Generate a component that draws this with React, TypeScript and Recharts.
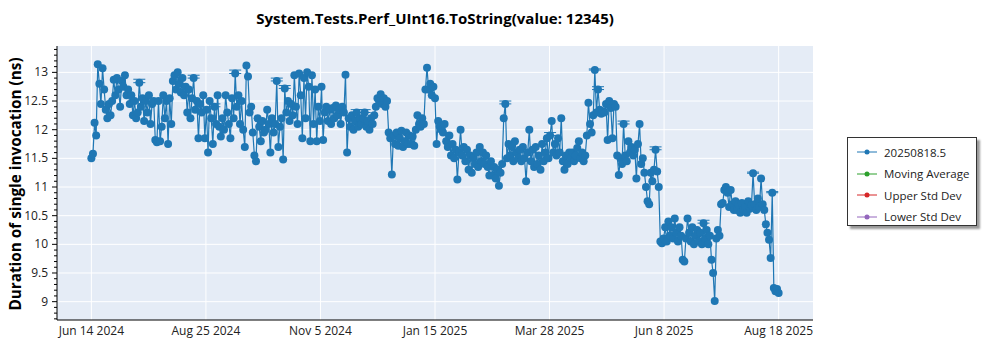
import { LineChart, Line, XAxis, YAxis, CartesianGrid, ErrorBar } from 'recharts';

// one run per day starting Jun 14 2024
const dayStep = 1;

const durations = [
  11.5, 11.58, 12.12, 11.9, 13.14, 12.8, 12.45, 13.07, 12.7, 12.35,
  12.2, 12.45, 12.25, 12.5, 12.87, 12.6, 12.9, 12.7, 12.4, 12.85,
  12.75, 12.95, 12.6, 12.7, 12.45, 12.6, 12.25, 12.5, 12.2, 12.3,
  12.82, 12.4, 12.55, 12.15, 12.5, 12.3, 12.6, 12.1, 12.45, 12.5,
  11.82, 11.78, 12.5, 11.8, 12.05, 12.6, 12.2, 12.5, 11.75, 12.55,
  12.1, 12.85, 12.95, 12.7, 13.0, 12.8, 12.65, 12.9, 12.6, 12.75,
  12.3, 12.7, 12.2, 12.55, 12.9, 12.35, 12.5, 11.85, 12.45, 12.3,
  12.6, 11.85, 12.35, 11.6, 12.5, 12.2, 11.75, 12.4, 12.1, 12.6,
  12.05, 11.88, 12.2, 12.0, 12.6, 12.3, 12.1, 11.85, 12.55, 12.2,
  12.98, 12.4, 12.6, 12.1, 12.5, 12.0, 11.7, 13.12, 12.93, 12.3,
  12.4, 11.95, 11.55, 11.45, 12.2, 12.05, 11.8, 12.15, 11.95, 12.0,
  12.35, 12.1, 11.6, 12.2, 11.95, 12.1, 12.85, 11.7, 12.05, 12.2,
  11.48, 12.72, 12.3, 12.5, 12.15, 12.45, 12.25, 12.95, 12.4, 12.1,
  12.98, 12.6, 11.85, 12.9, 12.2, 13.0, 12.75, 11.8, 12.95, 12.1,
  12.7, 11.8, 12.4, 12.15, 12.75, 11.82, 12.3, 12.4, 12.15, 12.35,
  12.1, 12.38, 12.2, 12.42, 12.25, 12.35, 12.1, 12.4, 12.3, 12.96,
  11.6, 12.2, 12.05, 12.25, 12.0, 12.15, 12.3, 12.05, 12.2, 12.1,
  12.2, 12.3, 12.05, 12.15, 12.0, 12.2, 12.1, 12.25, 12.4, 12.55,
  12.5, 12.62, 12.45, 12.55, 12.4, 12.5, 11.95, 11.85, 11.22, 11.9,
  11.75, 11.95, 11.72, 11.85, 11.98, 11.7, 11.8, 11.95, 11.75, 11.9,
  11.75, 11.88, 11.72, 12.0, 12.25, 12.1, 12.05, 12.2, 12.1, 12.7,
  13.08, 12.7, 12.8, 12.6, 12.75, 12.55, 11.75, 12.15, 12.05, 12.0,
  11.95, 12.1, 11.8, 11.7, 11.9, 11.55, 11.75, 11.5, 11.65, 11.13,
  11.6, 12.0, 11.55, 11.7, 11.45, 11.65, 11.3, 11.55, 11.25, 11.5,
  11.4, 11.6, 11.35, 11.7, 11.45, 11.6, 11.4, 11.55, 11.35, 11.2,
  11.45, 11.2, 11.35, 11.15, 11.3, 11.02, 11.25, 11.4, 12.2, 12.45,
  11.5, 11.75, 11.55, 11.7, 11.45, 11.8, 11.6, 11.5, 11.65, 11.45,
  11.7, 11.5, 11.1, 11.6, 12.0, 11.45, 11.65, 11.35, 11.7, 11.4,
  11.55, 11.3, 11.75, 11.45, 11.6, 11.85, 11.5, 11.9, 12.15, 11.6,
  11.75, 11.55, 11.85, 11.6, 12.2, 11.45, 11.3, 11.55, 11.4, 11.6,
  11.5, 11.6, 11.45, 11.55, 11.68, 11.8, 11.5, 11.6, 11.45, 11.55,
  11.9, 12.47, 12.1, 11.95, 12.25, 13.04, 12.3, 12.7, 12.35, 12.28,
  12.32, 12.3, 12.45, 11.82, 12.5, 12.38, 11.85, 12.45, 12.4, 11.55,
  11.21, 11.5, 11.4, 12.1, 11.55, 11.45, 11.8, 11.6, 11.7, 11.55,
  11.65, 11.15, 11.75, 12.1, 11.4, 11.5, 11.25, 11.0, 10.75, 10.7,
  11.25, 11.1, 11.3, 11.65, 11.27, 11.0, 10.05, 10.02, 10.1, 10.3,
  10.05, 10.4, 10.15, 10.3, 10.1, 10.45, 10.2, 10.05, 10.3, 10.15,
  9.73, 9.7, 10.1, 10.45, 10.2, 10.05, 10.3, 10.0, 10.15, 10.25,
  10.05, 10.2, 10.0, 10.37, 10.1, 10.25, 10.0, 10.15, 9.73, 9.5,
  9.01, 10.1, 10.25, 10.15, 10.7, 10.72, 10.95, 11.0, 10.9, 10.65,
  10.95, 10.7, 10.6, 10.75, 10.6, 10.7, 10.55, 10.72, 10.6, 10.65,
  10.55, 10.75, 10.62, 10.68, 11.24, 10.7, 10.6, 10.8, 10.65, 11.15,
  10.7, 10.6, 10.35, 10.2, 10.08, 9.76, 10.9, 9.24, 9.18, 9.22,
  9.15,
];

// upper std error on a few runs (day index -> ns)
const upperErrors: Record<number, number> = {
  30: 0.06, 55: 0.08, 64: 0.05, 77: 0.05, 90: 0.06, 116: 0.05, 121: 0.05,
  166: 0.05, 171: 0.05, 259: 0.05, 287: 0.05, 315: 0.02, 317: 0.05,
  333: 0.05, 353: 0.05, 383: 0.05, 414: 0.02, 426: 0.02,
};

const xTickLabels = ['Jun 14 2024', 'Aug 25 2024', 'Nov 5 2024', 'Jan 15 2025', 'Mar 28 2025', 'Jun 8 2025', 'Aug 18 2025'];

const legendItems = [
  { label: '20250818.5', color: '#1f77b4' },
  { label: 'Moving Average', color: '#2ca02c' },
  { label: 'Upper Std Dev', color: '#d62728' },
  { label: 'Lower Std Dev', color: '#9467bd' },
];

const data = durations.map((v, i) => ({
  day: i * dayStep,
  value: v,
  err: upperErrors[i] !== undefined ? [0, upperErrors[i]] : undefined,
}));

const span = (durations.length - 1) * dayStep;
const pad = span * 0.05;
const xTicks = xTickLabels.map((_, i) => (span * i) / (xTickLabels.length - 1));
const yTicks = Array.from({ length: 48 }, (_, k) => (87 + k) / 10);
const yMajor = Array.from({ length: 9 }, (_, k) => 9 + k * 0.5);

const FONT = '"Segoe UI", "Open Sans", "Noto Sans", sans-serif';

const YTick = ({ x, y, payload }: any) => {
  const major = Math.abs(payload.value * 2 - Math.round(payload.value * 2)) < 1e-6;
  return (
    <g>
      <line x1={x - (major ? 5 : 3)} x2={x} y1={y} y2={y} stroke="#000" />
      {major && (
        <text x={x - 9} y={y} dy={4} textAnchor="end" fontSize={12} fill="#222" fontFamily={FONT}>
          {payload.value}
        </text>
      )}
    </g>
  );
};

export default function App() {
  return (
    <div style={{ position: 'absolute', left: 0, top: 0, width: 1000, height: 350, fontFamily: FONT, background: '#fff' }}>
      <div
        style={{
          position: 'absolute', left: 435, top: 8, transform: 'translateX(-50%)',
          fontWeight: 'bold', fontSize: 15, whiteSpace: 'nowrap', color: '#000',
        }}
      >
        System.Tests.Perf_UInt16.ToString(value: 12345)
      </div>
      <div
        style={{
          position: 'absolute', left: 15, top: 184, transform: 'translate(-50%, -50%) rotate(-90deg)',
          fontWeight: 'bold', fontSize: 15.3, whiteSpace: 'nowrap', color: '#000',
        }}
      >
        Duration of single invocation (ns)
      </div>
      <LineChart width={1000} height={350} data={data} margin={{ top: 46, right: 187, left: 0, bottom: 0 }}>
        <CartesianGrid
          fill="#e5ecf6"
          stroke="#fff"
          strokeWidth={1}
          horizontalValues={yMajor}
          verticalValues={xTicks}
        />
        <XAxis
          dataKey="day"
          type="number"
          domain={[-pad, span + pad]}
          ticks={xTicks}
          tickFormatter={(_, i) => xTickLabels[i]}
          interval={0}
          height={30}
          tickSize={0}
          tickMargin={6}
          axisLine={{ stroke: '#000' }}
          tick={{ fontSize: 12, fill: '#222', fontFamily: FONT }}
        />
        <XAxis xAxisId="top" orientation="top" type="number" domain={[-pad, span + pad]} height={0} tick={false} tickLine={false} axisLine={{ stroke: '#000' }} />
        <YAxis
          type="number"
          domain={[8.68, 13.46]}
          ticks={yTicks}
          interval={0}
          width={57}
          tickSize={0}
          tickMargin={0}
          tickLine={false}
          axisLine={{ stroke: '#000' }}
          tick={<YTick />}
        />
        <YAxis yAxisId="right" orientation="right" type="number" domain={[8.68, 13.46]} width={0} tick={false} tickLine={false} axisLine={{ stroke: '#000' }} />
        <Line
          type="linear"
          dataKey="value"
          stroke="#1f77b4"
          strokeWidth={1.2}
          dot={{ r: 4, fill: '#1f77b4', stroke: 'none' }}
          activeDot={false}
          isAnimationActive={false}
        >
          <ErrorBar dataKey="err" width={6} stroke="#1f77b4" strokeWidth={1} direction="y" />
        </Line>
      </LineChart>
      <div
        style={{
          position: 'absolute', left: 847, top: 137, width: 130, height: 89,
          border: '1px solid #333', background: '#fff', boxShadow: '3px 3px 2px #999',
          boxSizing: 'border-box', fontSize: 11.5, color: '#222',
        }}
      >
        {legendItems.map((item, i) => (
          <div key={item.label} style={{ position: 'absolute', left: 8, top: 6 + i * 21.5, height: 16, display: 'flex', alignItems: 'center', whiteSpace: 'nowrap' }}>
            <svg width={22} height={10} style={{ marginRight: 6 }}>
              <line x1={1} x2={21} y1={5} y2={5} stroke={item.color} strokeWidth={1} />
              <circle cx={11} cy={5} r={2.5} fill={item.color} />
            </svg>
            {item.label}
          </div>
        ))}
      </div>
    </div>
  );
}
